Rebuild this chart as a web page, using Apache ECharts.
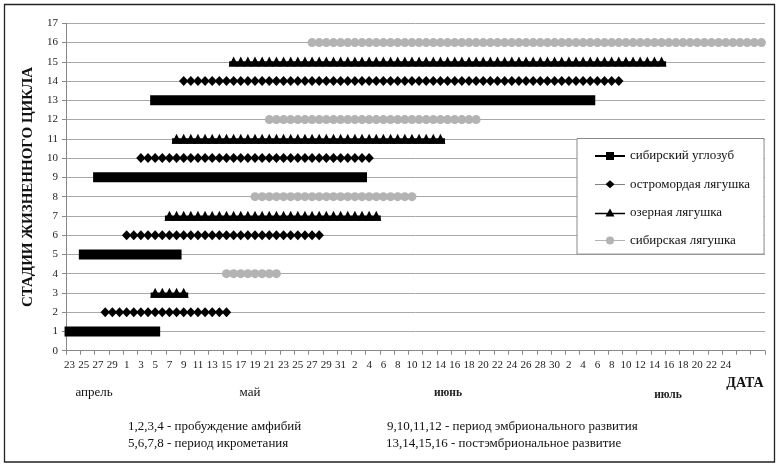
<!DOCTYPE html>
<html>
<head>
<meta charset="utf-8">
<script src="https://cdn.jsdelivr.net/npm/echarts@6/dist/echarts.min.js"></script>
<style>html,body{margin:0;padding:0;background:#fff}#c{width:777px;height:466px}</style>
</head>
<body>
<div id="c"></div>
<script>
// Day-of-month labels, one per day from 23 April (blank where the source shows none)
const dayLabels = [
  '23','24','25','26','27','28','29','30',
  '1','2','3','4','5','6','7','8','9','10','11','12','13','14','15','16','17','18','19','20','21','22','23','24','25','26','27','28','29','30','31',
  '1','2','3','4','5','6','7','8','9','10','11','12','13','14','15','16','17','18','19','20','21','22','23','24','25','26','27','28','29','30',
  '1','2','3','4','5','6','7','8','9','10','11','12','13','14','15','16','17','18','19','20','21','22','23','24',
  '','','','',''
];
const monthLabels = ['апрель', 'май', 'июнь', 'июль'];
const seriesNames = ['сибирский углозуб', 'остромордая лягушка', 'озерная лягушка', 'сибирская лягушка'];
// Each entry: [first day index, stage, last day index]
const salamander = [[0, 1, 12], [2, 5, 15], [4, 9, 41], [12, 13, 73]];
const moorFrog   = [[5, 2, 22], [8, 6, 35], [10, 10, 42], [16, 14, 77]];
const marshFrog  = [[12, 3, 16], [14, 7, 43], [15, 11, 52], [23, 15, 83]];
const sibFrog    = [[22, 4, 29], [26, 8, 48], [28, 12, 57], [34, 16, 97]];
const notes = [
  '1,2,3,4 - пробуждение амфибий', '5,6,7,8 - период икрометания',
  '9,10,11,12 - период эмбрионального развития', '13,14,15,16 - постэмбриональное развитие'
];

const FONT = 'Liberation Serif';
const chart = echarts.init(document.getElementById('c'), null, {renderer: 'canvas'});

function makeRender(kind, color) {
  return function (params, api) {
    const s = api.value(0), st = api.value(1), e = api.value(2);
    const p0 = api.coord([s, st]);
    const p1 = api.coord([e, st]);
    const children = [];
    if (kind === 'square') {
      children.push({type: 'rect', shape: {x: p0[0] - 5, y: p0[1] - 5, width: p1[0] - p0[0] + 10, height: 10}, style: {fill: color}});
    } else {
      if (kind === 'triangle') {
        children.push({type: 'rect', shape: {x: p0[0] - 4.5, y: p0[1] - 0.5, width: p1[0] - p0[0] + 9, height: 5.3}, style: {fill: color}});
      }
      for (let d = s; d <= e; d++) {
        const c = api.coord([d, st]);
        const x = c[0], y = c[1];
        if (kind === 'diamond') {
          children.push({type: 'polygon', shape: {points: [[x, y - 5], [x + 4.7, y], [x, y + 5], [x - 4.7, y]]}, style: {fill: color}});
        } else if (kind === 'triangle') {
          children.push({type: 'polygon', shape: {points: [[x, y - 5.2], [x + 5, y + 4.8], [x - 5, y + 4.8]]}, style: {fill: color}});
        } else {
          children.push({type: 'circle', shape: {cx: x, cy: y, r: 4.5}, style: {fill: color}});
        }
      }
    }
    return {type: 'group', children: children};
  };
}

function mkSeries(name, data, kind, color) {
  return {
    type: 'custom', name: name, data: data,
    encode: {x: [0, 2], y: 1},
    itemStyle: {color: color},
    renderItem: makeRender(kind, color),
    silent: true, z: 3
  };
}

const icons = [
  'path://M0,3 H30 V5 H0 Z M11,0 H19 V8 H11 Z',
  'path://M0,3.7 H30 V4.3 H0 Z M15,0 L19.5,4 L15,8 L10.5,4 Z',
  'path://M0,4.3 H30 V5.8 H0 Z M15,0 L19.5,8 L10.5,8 Z',
  'path://M0,3.5 H30 V4.5 H0 Z M19,4 A4,4 0 1 1 11,4 A4,4 0 1 1 19,4 Z'
];

const option = {
  backgroundColor: '#fff',
  animation: false,
  textStyle: {fontFamily: FONT},
  grid: {left: 66, right: 12, top: 23.3, bottom: 115.3},
  legend: {
    orient: 'vertical', left: 577, top: 138.5,
    itemWidth: 30, itemHeight: 10, itemGap: 15.2,
    padding: [11, 14, 7, 18],
    backgroundColor: '#fff', borderColor: '#8a8a8a', borderWidth: 1,
    textStyle: {fontFamily: FONT, fontSize: 13, color: '#111'},
    data: seriesNames.map((n, i) => ({name: n, icon: icons[i]})),
    selectedMode: false
  },
  xAxis: {
    type: 'category', data: dayLabels, boundaryGap: true,
    axisLine: {show: true, lineStyle: {color: '#888', width: 1}},
    axisTick: {show: true, interval: 1, length: 4, lineStyle: {color: '#888'}},
    axisLabel: {interval: 1, margin: 9, fontFamily: FONT, fontSize: 11, color: '#222'},
    splitLine: {show: false}
  },
  yAxis: {
    type: 'value', min: 0, max: 17, interval: 1,
    name: 'СТАДИИ ЖИЗНЕННОГО ЦИКЛА', nameLocation: 'middle', nameRotate: 90, nameGap: 30,
    nameTextStyle: {fontFamily: FONT, fontSize: 15, fontWeight: 'bold', color: '#111'},
    axisLine: {show: true, lineStyle: {color: '#888', width: 1}},
    axisTick: {show: true, length: 4, lineStyle: {color: '#888'}},
    axisLabel: {margin: 8, fontFamily: FONT, fontSize: 11, color: '#222'},
    splitLine: {show: true, lineStyle: {color: '#a8a8a8', width: 1}}
  },
  graphic: [
    {type: 'rect', shape: {x: 4.5, y: 4.5, width: 770, height: 457.5}, style: {fill: 'none', stroke: '#222', lineWidth: 1.3}, silent: true, z: 10},
    {type: 'text', x: 94, y: 393, style: {text: monthLabels[0], fontFamily: FONT, fontSize: 13, fill: '#111', align: 'center', verticalAlign: 'middle'}},
    {type: 'text', x: 250, y: 393, style: {text: monthLabels[1], fontFamily: FONT, fontSize: 13, fill: '#111', align: 'center', verticalAlign: 'middle'}},
    {type: 'text', x: 448, y: 393, style: {text: monthLabels[2], fontFamily: FONT, fontSize: 11.5, fontWeight: 'bold', fill: '#222', align: 'center', verticalAlign: 'middle'}},
    {type: 'text', x: 668, y: 395, style: {text: monthLabels[3], fontFamily: FONT, fontSize: 11.5, fontWeight: 'bold', fill: '#222', align: 'center', verticalAlign: 'middle'}},
    {type: 'text', x: 745, y: 383, style: {text: 'ДАТА', fontFamily: FONT, fontSize: 14, fontWeight: 'bold', fill: '#111', align: 'center', verticalAlign: 'middle'}},
    {type: 'text', x: 128, y: 427, style: {text: notes[0], fontFamily: FONT, fontSize: 13, fill: '#111', align: 'left', verticalAlign: 'middle'}},
    {type: 'text', x: 128, y: 444, style: {text: notes[1], fontFamily: FONT, fontSize: 13, fill: '#111', align: 'left', verticalAlign: 'middle'}},
    {type: 'text', x: 387, y: 427, style: {text: notes[2], fontFamily: FONT, fontSize: 13, fill: '#111', align: 'left', verticalAlign: 'middle'}},
    {type: 'text', x: 386, y: 444, style: {text: notes[3], fontFamily: FONT, fontSize: 13, fill: '#111', align: 'left', verticalAlign: 'middle'}}
  ],
  series: [
    mkSeries(seriesNames[0], salamander, 'square', '#000'),
    mkSeries(seriesNames[1], moorFrog, 'diamond', '#000'),
    mkSeries(seriesNames[2], marshFrog, 'triangle', '#000'),
    mkSeries(seriesNames[3], sibFrog, 'circle', '#b3b3b3')
  ]
};
chart.setOption(option);
</script>
</body>
</html>
